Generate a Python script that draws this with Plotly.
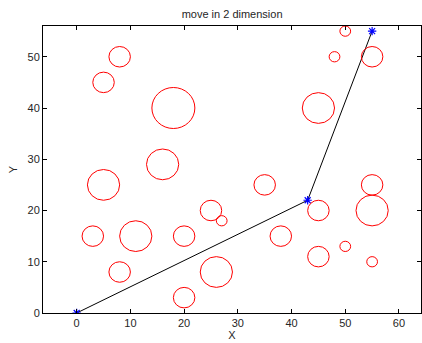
import plotly.graph_objects as go

# Obstacles (circles): centre x, centre y, radius
circle_x = [50, 48, 55, 8, 5, 18, 45, 16, 5, 35, 55, 25, 27, 45, 55, 3, 11, 20, 38, 8, 26, 20, 45, 50, 55]
circle_y = [55, 50, 50, 50, 45, 40, 40, 29, 25, 25, 25, 20, 18, 20, 20, 15, 15, 15, 15, 8, 8, 3, 11, 13, 10]
circle_r = [1, 1, 2, 2, 2, 4, 3, 3, 3, 2, 2, 2, 1, 2, 3, 2, 3, 2, 2, 2, 3, 2, 2, 1, 1]

# Path
path_x = [0, 43, 55]
path_y = [0, 22, 55]

x_ticks = [0, 10, 20, 30, 40, 50, 60]
y_ticks = [0, 10, 20, 30, 40, 50]

fig = go.Figure()

shapes = []
for cx, cy, r in zip(circle_x, circle_y, circle_r):
    shapes.append(dict(type="circle", xref="x", yref="y",
                       x0=cx - r, x1=cx + r, y0=cy - r, y1=cy + r,
                       line=dict(color="#ff0000", width=1)))

fig.add_trace(go.Scatter(x=path_x, y=path_y, mode="lines",
                         line=dict(color="black", width=1), showlegend=False,
                         hoverinfo="skip"))
fig.add_trace(go.Scatter(x=path_x, y=path_y, mode="markers",
                         marker=dict(symbol="asterisk-open", size=7,
                                     line=dict(color="#0000ff", width=1.2),
                                     color="#0000ff"),
                         showlegend=False))

font = dict(family="Liberation Sans, Arial, sans-serif", size=11, color="#262626")

fig.update_layout(
    width=422, height=343,
    margin=dict(l=43, r=1, t=26, b=30, autoexpand=False),
    paper_bgcolor="white", plot_bgcolor="white",
    shapes=shapes,
    font=font,
    title=dict(text="move in 2 dimension", x=0.55, xanchor="center",
               y=1 - 14 / 343, yanchor="middle",
               font=dict(family="Liberation Sans, Arial, sans-serif", size=11, color="#262626")),
    xaxis=dict(range=[-6.27, 64.1], tickvals=x_ticks, ticks="inside", ticklen=4,
               tickcolor="black", showline=True, linecolor="black", linewidth=1,
               mirror="allticks", showgrid=False, zeroline=False,
               title=dict(text="X", standoff=3, font=font)),
    yaxis=dict(range=[0, 56], tickvals=y_ticks, ticks="inside", ticklen=4,
               tickcolor="black", showline=True, linecolor="black", linewidth=1,
               mirror="allticks", showgrid=False, zeroline=False,
               title=dict(text="Y", standoff=7, font=font)),
)

fig.write_html("out.html", config={"displayModeBar": False},
               post_script="document.body.style.margin='0';document.body.style.overflow='hidden';")
